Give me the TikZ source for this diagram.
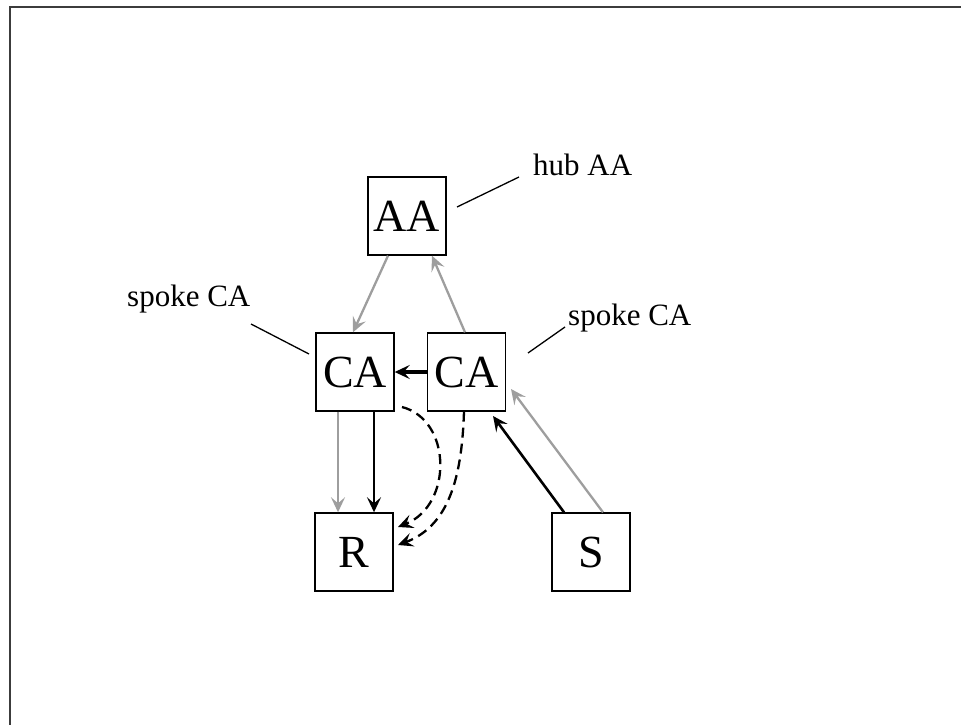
\documentclass[tikz,border=0pt]{standalone}
\usepackage{fontspec}
\setmainfont{Liberation Serif}
\usetikzlibrary{arrows.meta}
\definecolor{linegray}{HTML}{9E9E9E}
\definecolor{framegray}{HTML}{3C3C3C}
\begin{document}
\begin{tikzpicture}[x=1pt,y=-1pt,
  >={Stealth[length=15pt,width=14pt,inset=6pt]},
  box/.style={draw,line width=1.4pt,minimum width=78pt,minimum height=78pt,inner sep=0pt,font=\fontsize{46}{50}\selectfont},
  lbl/.style={inner sep=0pt,font=\fontsize{31}{34}\selectfont},
  grayarrow/.style={->,draw=linegray,line width=2.3pt},
  blackarrow/.style={->,draw=black,line width=2.6pt},
  dasharrow/.style={->,draw=black,line width=2.3pt,dash pattern=on 10pt off 6pt},
  pinline/.style={draw=black,line width=1.3pt}]
\useasboundingbox (0,0) rectangle (961,725);
\draw[framegray,line width=2.2pt] (10,726) -- (10,7) -- (962,7);

\node[box] (AA) at (407,216) {AA};
\node[box] (CAL) at (355,372) {CA};
\node[box] (CAR) at (466.5,372) {CA};
\node[box] (R) at (354,552) {R};
\node[box] (S) at (591,552) {S};

\node[lbl,anchor=base west] (hub) at (533,175) {hub AA};
\node[lbl,anchor=base west] (spokeR) at (568,325) {spoke CA};
\node[lbl,anchor=base west] (spokeL) at (127,306) {spoke CA};

\coordinate (hubA) at (457,207);
\coordinate (hubB) at (519,177);
\coordinate (spRA) at (528,353);
\coordinate (spRB) at (565,327);
\coordinate (spLA) at (251,324);
\coordinate (spLB) at (309,354);
\draw[pinline] (hubA) -- (hubB);
\draw[pinline] (spRA) -- (spRB);
\draw[pinline] (spLA) -- (spLB);

\coordinate (RinA) at (398,527);
\coordinate (RinB) at (398,545);

% AA <-> CA
\draw[grayarrow] (AA.south -| 388,0) -- (CAL.north -| 353,0);
\draw[grayarrow] (CAR.north -| 465,0) -- (AA.south -| 432,0);
% CA right -> CA left
\draw[blackarrow,line width=3.2pt] (CAR.west) -- (CAL.east);
% CA left -> R
\draw[grayarrow] (CAL.south -| 338,0) -- (R.north -| 338,0);
\draw[blackarrow] (CAL.south -| 374,0) -- (R.north -| 374,0);
% dashed to R
\draw[dasharrow] (402,407) .. controls (452,420) and (453,505) .. (RinA);
\draw[dasharrow] (CAR.south -| 464,0) .. controls (462,470) and (452,525) .. (RinB);
% S -> CA right
\draw[blackarrow] (S.north -| 564,0) -- (493,416);
\draw[grayarrow] (S.north -| 603,0) -- (511,389);
\end{tikzpicture}
\end{document}
